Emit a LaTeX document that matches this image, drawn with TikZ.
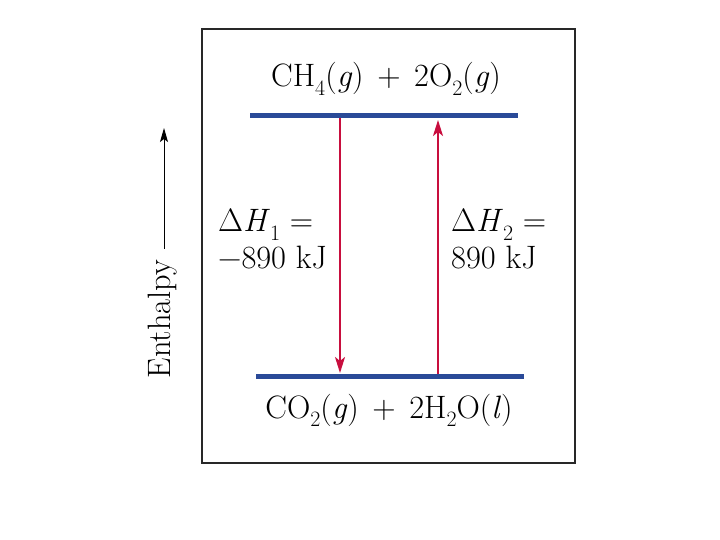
\documentclass[tikz,border=0pt]{standalone}
\usepackage{fontspec}
\usetikzlibrary{arrows.meta}
\definecolor{levelblue}{RGB}{42,74,152}
\definecolor{arrred}{RGB}{200,14,62}
\definecolor{boxgray}{RGB}{40,40,40}
\newcommand{\chemsub}[1]{\raisebox{-0.25em}{\fontsize{22}{22}\selectfont #1}}
\newcommand{\plussp}{\hspace{0.42em}+\hspace{0.42em}}
\tikzset{
  level/.style={levelblue,line width=5bp},
  trans/.style={arrred,line width=1.8bp,-{Stealth[length=16bp,width=10bp,inset=4bp]}},
  lbl/.style={font=\fontsize{32.5}{37}\selectfont,inner sep=0pt},
  deltalbl/.style={lbl,anchor=base west}
}
\begin{document}
\begin{tikzpicture}[x=1bp,y=-1bp]
\useasboundingbox (0,0) rectangle (720,540);
\draw[boxgray,line width=2bp] (202,29) rectangle (575,463);
% levels
\coordinate (t1) at (250,116);
\coordinate (t2) at (518,116);
\coordinate (b1) at (256,376);
\coordinate (b2) at (524,376);
\draw[level] (t1) -- (t2);
\draw[level] (b1) -- (b2);
\node[lbl,anchor=base] (top) at (386,87) {CH\chemsub{4}(\textit{g})\plussp 2O\chemsub{2}(\textit{g})};
\node[lbl,anchor=base] (bot) at (389,418) {CO\chemsub{2}(\textit{g})\plussp 2H\chemsub{2}O(\textit{l})};
% arrows
\coordinate (d1) at (340,118);
\coordinate (d2) at (340,373);
\coordinate (u1) at (438,374);
\coordinate (u2) at (438,120);
\draw[trans] (d1) -- (d2);
\draw[trans] (u1) -- (u2);
\node[deltalbl] (dh1a) at (218,232) {Δ\textit{H}\chemsub{1} =};
\node[deltalbl] (dh1b) at (218,269) {−890 kJ};
\node[deltalbl] (dh2a) at (451,232) {Δ\textit{H}\chemsub{2} =};
\node[deltalbl] (dh2b) at (451,269) {890 kJ};
% enthalpy axis
\node[lbl,rotate=90,anchor=base] (enth) at (170,319) {Enthalpy};
\coordinate (a1) at (164,249);
\coordinate (a2) at (164,128);
\draw[line width=1bp,-{Stealth[length=14bp,width=8bp,inset=3bp]}] (a1) -- (a2);
\end{tikzpicture}
\end{document}
